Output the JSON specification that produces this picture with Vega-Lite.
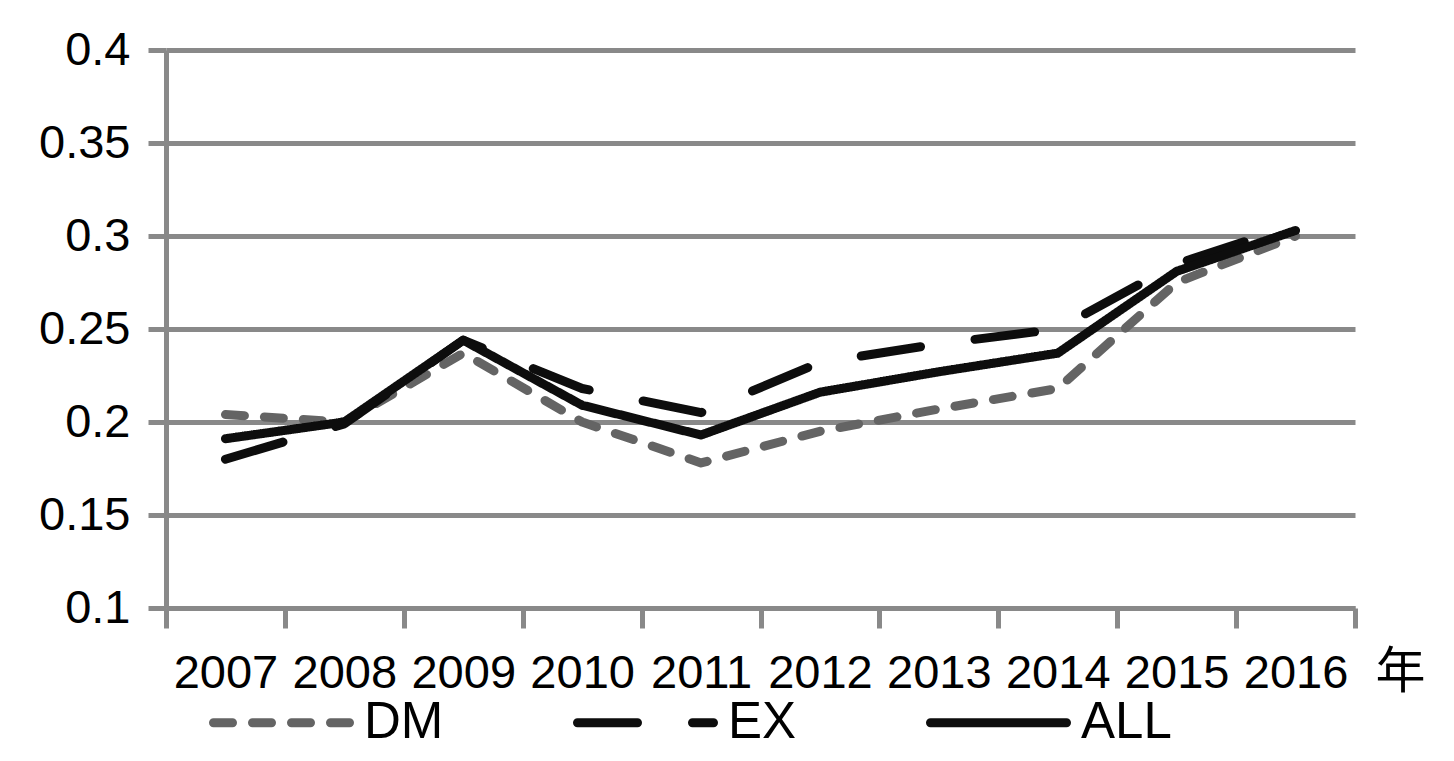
{
  "$schema": "https://vega.github.io/schema/vega-lite/v6.json",
  "width": 1189,
  "height": 558,
  "autosize": "none",
  "padding": {"left": 166, "top": 50, "right": 99, "bottom": 153},
  "background": "white",
  "config": {"view": {"stroke": null}, "font": "Liberation Sans"},
  "data": {
    "values": [
      {"year": "2007", "series": "DM", "value": 0.204},
      {"year": "2008", "series": "DM", "value": 0.2},
      {"year": "2009", "series": "DM", "value": 0.237},
      {"year": "2010", "series": "DM", "value": 0.2},
      {"year": "2011", "series": "DM", "value": 0.178},
      {"year": "2012", "series": "DM", "value": 0.195},
      {"year": "2013", "series": "DM", "value": 0.207},
      {"year": "2014", "series": "DM", "value": 0.218},
      {"year": "2015", "series": "DM", "value": 0.275},
      {"year": "2016", "series": "DM", "value": 0.3},
      {"year": "2007", "series": "EX", "value": 0.18},
      {"year": "2008", "series": "EX", "value": 0.199},
      {"year": "2009", "series": "EX", "value": 0.244},
      {"year": "2010", "series": "EX", "value": 0.218},
      {"year": "2011", "series": "EX", "value": 0.205},
      {"year": "2012", "series": "EX", "value": 0.232},
      {"year": "2013", "series": "EX", "value": 0.242},
      {"year": "2014", "series": "EX", "value": 0.25},
      {"year": "2015", "series": "EX", "value": 0.285},
      {"year": "2016", "series": "EX", "value": 0.306},
      {"year": "2007", "series": "ALL", "value": 0.191},
      {"year": "2008", "series": "ALL", "value": 0.2},
      {"year": "2009", "series": "ALL", "value": 0.244},
      {"year": "2010", "series": "ALL", "value": 0.209},
      {"year": "2011", "series": "ALL", "value": 0.193},
      {"year": "2012", "series": "ALL", "value": 0.216},
      {"year": "2013", "series": "ALL", "value": 0.227},
      {"year": "2014", "series": "ALL", "value": 0.237},
      {"year": "2015", "series": "ALL", "value": 0.281},
      {"year": "2016", "series": "ALL", "value": 0.303}
    ]
  },
  "mark": {"type": "line", "strokeCap": "round", "strokeJoin": "round"},
  "encoding": {
    "x": {
      "field": "year",
      "type": "ordinal",
      "sort": null,
      "scale": {"paddingInner": 0, "paddingOuter": 0},
      "axis": {
        "title": "年",
        "titleX": 1234,
        "titleY": 64,
        "titleBaseline": "middle",
        "titleAlign": "center",
        "titleFont": "Noto Sans CJK SC",
        "titleFontSize": 50,
        "titleFontWeight": "normal",
        "titleColor": "black",
        "labelAngle": 0,
        "labelFont": "Liberation Sans",
        "labelFontSize": 47,
        "labelColor": "black",
        "labelPadding": 22,
        "tickBand": "extent",
        "tickSize": 20,
        "tickWidth": 5,
        "tickColor": "#898989",
        "domainColor": "#898989",
        "domainWidth": 5,
        "grid": false
      }
    },
    "y": {
      "field": "value",
      "type": "quantitative",
      "scale": {"domain": [0.1, 0.4], "nice": false, "zero": false},
      "axis": {
        "title": null,
        "values": [0.1, 0.15, 0.2, 0.25, 0.3, 0.35, 0.4],
        "format": "~g",
        "grid": true,
        "gridColor": "#898989",
        "gridWidth": 5,
        "tickSize": 18,
        "tickWidth": 5,
        "tickColor": "#898989",
        "domainColor": "#898989",
        "domainWidth": 5,
        "labelFont": "Liberation Sans",
        "labelFontSize": 47,
        "labelColor": "black",
        "labelPadding": 18
      }
    },
    "color": {
      "field": "series",
      "type": "nominal",
      "scale": {"domain": ["DM", "EX", "ALL"], "range": ["#646464", "#0d0d0d", "#0d0d0d"]},
      "legend": {
        "orient": "none",
        "legendX": 43,
        "legendY": 600,
        "direction": "horizontal",
        "title": null,
        "padding": 0,
        "symbolType": "stroke",
        "symbolSize": 18496,
        "symbolStrokeWidth": 9,
        "labelFont": "Liberation Sans",
        "labelFontSize": 51,
        "labelColor": "black",
        "labelOffset": 10,
        "columnPadding": 115,
        "encode": {"symbols": {"update": {"strokeCap": {"value": "round"}}}}
      }
    },
    "strokeDash": {
      "field": "series",
      "type": "nominal",
      "scale": {"domain": ["DM", "EX", "ALL"], "range": [[19, 20], [60, 55], [1, 0]]},
      "legend": {
        "orient": "none",
        "legendX": 43,
        "legendY": 600,
        "direction": "horizontal",
        "title": null,
        "padding": 0,
        "symbolType": "stroke",
        "symbolSize": 18496,
        "symbolStrokeWidth": 9,
        "labelFont": "Liberation Sans",
        "labelFontSize": 51,
        "labelColor": "black",
        "labelOffset": 10,
        "columnPadding": 115,
        "encode": {"symbols": {"update": {"strokeCap": {"value": "round"}}}}
      }
    },
    "strokeWidth": {"value": 9}
  }
}
